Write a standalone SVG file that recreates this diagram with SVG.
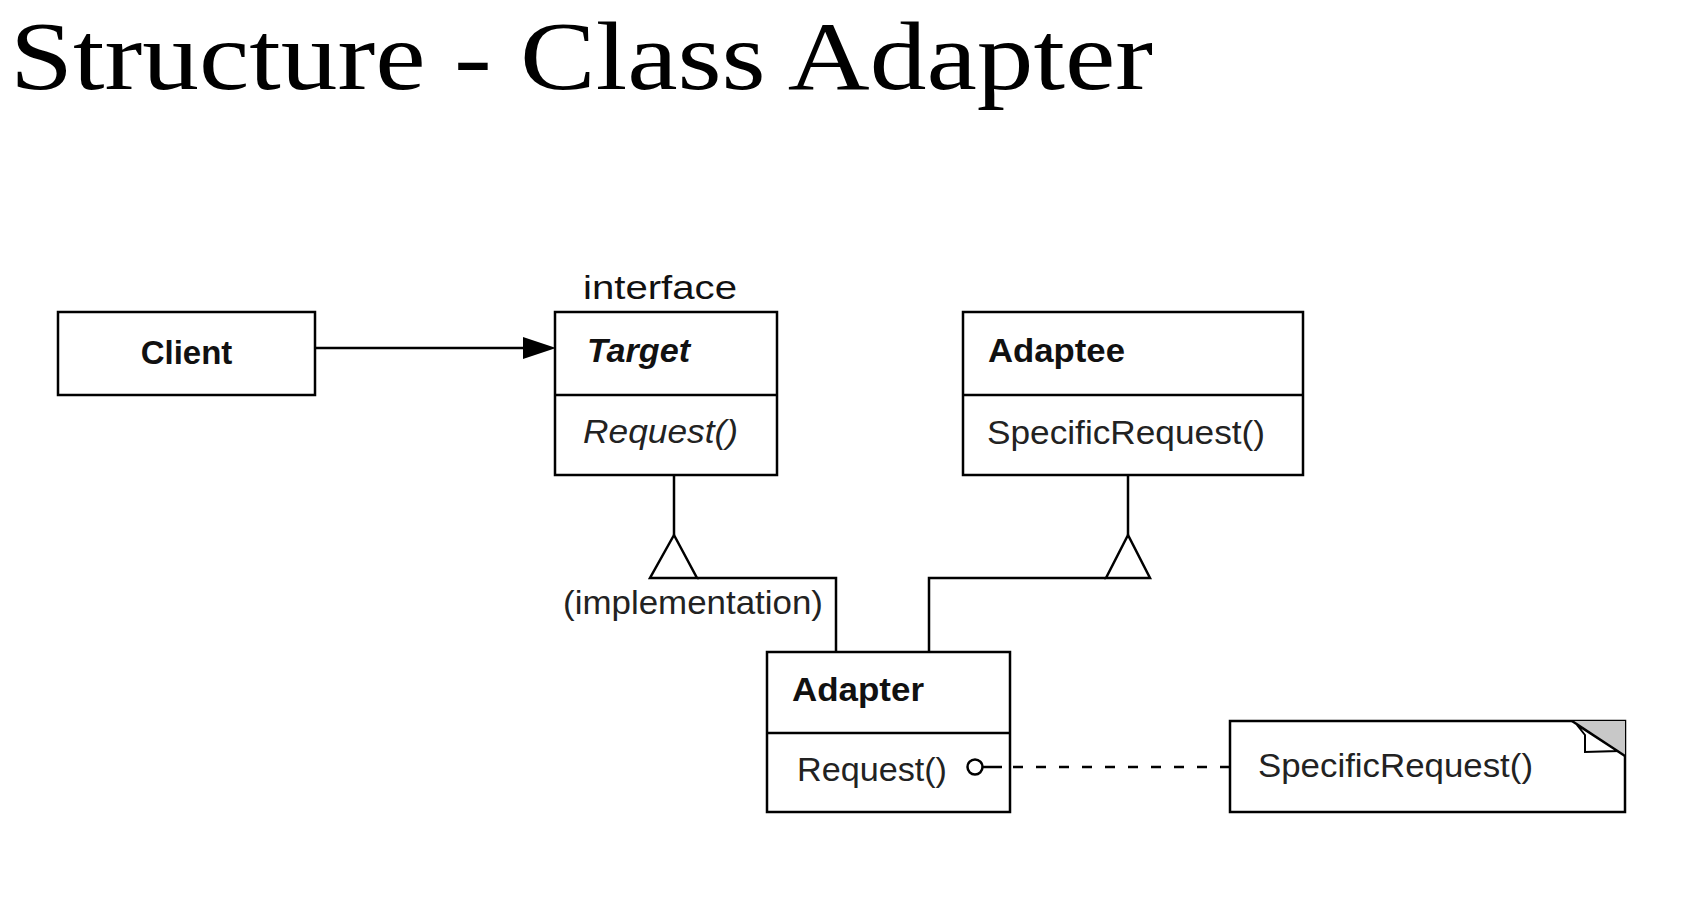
<svg xmlns="http://www.w3.org/2000/svg" width="1698" height="910" viewBox="0 0 1698 910">
  <style>
    .box { fill: #ffffff; stroke: #000000; stroke-width: 2.5; }
    .ln { fill: none; stroke: #000000; stroke-width: 2.5; }
    .t { font-family: "Liberation Sans", Arial, sans-serif; font-size: 33px; fill: #111111; }
    .b { font-weight: bold; }
    .i { font-style: italic; }
    .m { fill: #222222; }
    .title { font-family: "Liberation Serif", "Times New Roman", serif; font-size: 97px; fill: #000000; }
  </style>
  <rect width="1698" height="910" fill="#ffffff"/>
  <text class="title" x="10" y="89" textLength="1143" lengthAdjust="spacingAndGlyphs">Structure - Class Adapter</text>

  <g id="client">
    <rect class="box" x="58" y="312" width="257" height="83"/>
    <text class="t b" x="186.5" y="364" text-anchor="middle">Client</text>
  </g>

  <g id="target">
    <text class="t" x="583" y="299" textLength="154" lengthAdjust="spacingAndGlyphs">interface</text>
    <rect class="box" x="555" y="312" width="222" height="163"/>
    <line class="ln" x1="555" y1="395" x2="777" y2="395"/>
    <text class="t b i" x="587" y="362" textLength="103" lengthAdjust="spacingAndGlyphs">Target</text>
    <text class="t i m" x="583" y="443" textLength="155" lengthAdjust="spacingAndGlyphs">Request()</text>
  </g>

  <g id="adaptee">
    <rect class="box" x="963" y="312" width="340" height="163"/>
    <line class="ln" x1="963" y1="395" x2="1303" y2="395"/>
    <text class="t b" x="988" y="362" textLength="137" lengthAdjust="spacingAndGlyphs">Adaptee</text>
    <text class="t m" x="987" y="444" textLength="278" lengthAdjust="spacingAndGlyphs">SpecificRequest()</text>
  </g>

  <g id="adapter">
    <rect class="box" x="767" y="652" width="243" height="160"/>
    <line class="ln" x1="767" y1="733" x2="1010" y2="733"/>
    <text class="t b" x="792" y="701" textLength="132" lengthAdjust="spacingAndGlyphs">Adapter</text>
    <text class="t m" x="797" y="781" textLength="150" lengthAdjust="spacingAndGlyphs">Request()</text>
  </g>

  <g id="note">
    <rect class="box" x="1230" y="721" width="395" height="91"/>
    <polygon points="1572,721 1625,721 1625,756" fill="#c8c8c8"/>
    <line class="ln" x1="1572" y1="721" x2="1625" y2="756"/>
    <polygon points="1577,725 1585,735 1585,752 1617,751" fill="#ffffff" stroke="#000000" stroke-width="2"/>
    <text class="t m" x="1258" y="777" textLength="275" lengthAdjust="spacingAndGlyphs">SpecificRequest()</text>
  </g>

  <g id="connectors">
    <line class="ln" x1="315" y1="348" x2="525" y2="348"/>
    <polygon points="523,337 556,348 523,359" fill="#000000"/>
    <polyline class="ln" points="674,475 674,535"/>
    <polygon class="ln" points="674,535 650,578 697,578"/>
    <polyline class="ln" points="697,578 836,578 836,652"/>
    <polyline class="ln" points="1128,475 1128,535"/>
    <polygon class="ln" points="1128,535 1106,578 1150,578"/>
    <polyline class="ln" points="1106,578 929,578 929,652"/>
    <circle cx="975" cy="767" r="7.5" fill="#ffffff" stroke="#000000" stroke-width="2.5"/>
    <line class="ln" x1="983" y1="767" x2="1002" y2="767"/>
    <line class="ln" x1="1013" y1="767" x2="1230" y2="767" stroke-dasharray="10 13"/>
    <text class="t m" x="563" y="614" textLength="260" lengthAdjust="spacingAndGlyphs">(implementation)</text>
  </g>
</svg>
